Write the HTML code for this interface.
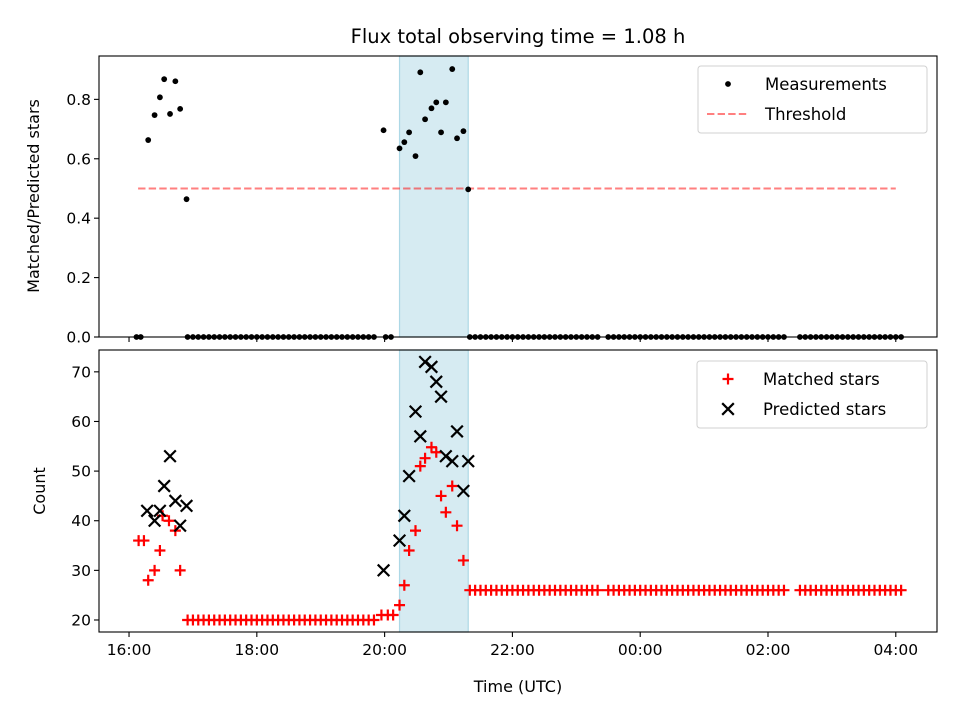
<!DOCTYPE html>
<html><head><meta charset="utf-8">
<style>
html,body{margin:0;padding:0;background:#fff;}
svg{display:block;font-family:"DejaVu Sans","Liberation Sans",sans-serif;}
</style></head>
<body>
<svg id="chart" width="960" height="720" viewBox="0 0 960 720" xmlns="http://www.w3.org/2000/svg">
<text x="518" y="43" text-anchor="middle" font-size="19.5" fill="#000">Flux total observing time = 1.08 h</text>
<g id="top-panel"></g>
<g id="bot-panel"></g>
<text x="518" y="692" text-anchor="middle" font-size="16">Time (UTC)</text>
<text transform="translate(39,196) rotate(-90)" text-anchor="middle" font-size="16">Matched/Predicted stars</text>
<text transform="translate(45,491) rotate(-90)" text-anchor="middle" font-size="16">Count</text>
</svg>
<script>
// minutes after 16:00
const flatB = [55,60,65,70,75,80,85,90,95,100,105,110,115,120,125,130,135,140,145,150,155,160,165,170,175,180,185,190,195,200,205,210,215,220,225,230];
const flatC = [320,325,330,335,340,345,350,355,360,365,370,375,380,385,390,395,400,405,410,415,420,425,430,435,440,
 450,455,460,465,470,475,480,485,490,495,500,505,510,515,520,525,530,535,540,545,550,555,560,565,570,575,580,585,590,595,600,605,610,615,
 630,635,640,645,650,655,660,665,670,675,680,685,690,695,700,705,710,715,720,725];
const ratioTimes = [18,24,29,33,38.5,43.5,48,54, 239,254,258.5,263,269,273.5,278,284,288.5,293,297.5,303.5,308,314,318.5];
const ratioValues = [0.663,0.747,0.807,0.868,0.751,0.861,0.768,0.464, 0.696,0.635,0.656,0.689,0.609,0.891,0.733,0.770,0.790,0.689,0.790,0.902,0.669,0.693,0.497];
const zeroTimes = [7,11,241,246];
const matchedTimes = [9,14,18,24,29,31.5,37.5,43.5,48, 237,243,248,254,258.5,263,269,273.5,278,284,288.5,293,297.5,303.5,308,314];
const matchedValues = [36,36,28,30,34,41,40,38,30, 21,21,21,23,27,34,38,51,52.6,54.8,53.8,45,41.7,47,39,32];
const predTimes = [17,24,29,33,38.5,43.5,48,54, 239,254,258.5,263,269,273.5,278,284,288.5,293,297.5,303.5,308,314,318.5];
const predValues = [42,40,42,47,53,44,39,43, 30,36,41,49,62,57,72,71,68,65,53,52,58,46,52];
const flatBValue = 20, flatCValue = 26;
const threshold = 0.5, thrStart = 8.5, thrEnd = 720;
const spanStart = 254, spanEnd = 318.5;
const xTicks = [0,120,240,360,480,600,720];
const xTickLabels = ["16:00","18:00","20:00","22:00","00:00","02:00","04:00"];
const topYTicks = [0,0.2,0.4,0.6,0.8];
const botYTicks = [20,30,40,50,60,70];

const NS="http://www.w3.org/2000/svg";
const L=99,R=937;
const xmin=-28.2,xmax=758.7;
const X=t=>L+(t-xmin)/(xmax-xmin)*(R-L);
const T0=56,T1=337, B0=350,B1=632;
const Yt=v=>T1-v/0.946*(T1-T0);
const Yb=v=>B1-(v-17.58)/(74.4-17.58)*(B1-B0);
function mk(p,tag,a){const e=document.createElementNS(NS,tag);for(const k in a)e.setAttribute(k,a[k]);p.appendChild(e);return e;}
const gTop=document.getElementById('top-panel'), gBot=document.getElementById('bot-panel');

function span(g,y0,y1){
 const r=mk(g,'rect',{x:X(spanStart),y:y0,width:X(spanEnd)-X(spanStart),height:y1-y0,fill:'#add8e6','fill-opacity':0.5,stroke:'#add8e6','stroke-width':1.2});
 
 
}
span(gTop,T0,T1); span(gBot,B0,B1);

const th=mk(gTop,'line',{x1:X(thrStart),x2:X(thrEnd),y1:Yt(threshold),y2:Yt(threshold),stroke:'#ff0000','stroke-opacity':0.5,'stroke-width':2,'stroke-dasharray':'7.4,3.2'});



function dot(t,v){
 const c=mk(gTop,'circle',{cx:X(t),cy:Yt(v),r:2.9,fill:'#000'});
 
 
}
ratioTimes.forEach((t,i)=>dot(t,ratioValues[i]));
zeroTimes.forEach(t=>dot(t,0));
flatB.forEach(t=>dot(t,0));
flatC.forEach(t=>dot(t,0));

function plus(g,cx,cy){
 const p=mk(g,'path',{d:`M${cx-5.5},${cy}H${cx+5.5}M${cx},${cy-5.5}V${cy+5.5}`,stroke:'#ff0000','stroke-width':2.2,fill:'none'});
 
 
}
function cross(g,cx,cy){
 const p=mk(g,'path',{d:`M${cx-5.8},${cy-5.8}L${cx+5.8},${cy+5.8}M${cx-5.8},${cy+5.8}L${cx+5.8},${cy-5.8}`,stroke:'#000','stroke-width':2.2,fill:'none'});
 
 
}
matchedTimes.forEach((t,i)=>plus(gBot,X(t),Yb(matchedValues[i])));
flatB.forEach(t=>plus(gBot,X(t),Yb(flatBValue)));
flatC.forEach(t=>plus(gBot,X(t),Yb(flatCValue)));
predTimes.forEach((t,i)=>cross(gBot,X(t),Yb(predValues[i])));

function frame(g,y0,y1,name){
 const r=mk(g,'rect',{x:L,y:y0,width:R-L,height:y1-y0,fill:'none',stroke:'#000','stroke-width':1.1});
 
 
}
frame(gTop,T0,T1,'top-axes-frame'); frame(gBot,B0,B1,'bottom-axes-frame');
xTicks.forEach((t,i)=>{
 mk(gTop,'line',{x1:X(t),x2:X(t),y1:T1,y2:T1+5,stroke:'#000','stroke-width':1.1});
 mk(gBot,'line',{x1:X(t),x2:X(t),y1:B1,y2:B1+5,stroke:'#000','stroke-width':1.1});
 const tx=mk(gBot,'text',{x:X(t),y:B1+23,'text-anchor':'middle','font-size':15.5});
 tx.textContent=xTickLabels[i];
 
 
});
topYTicks.forEach(v=>{
 mk(gTop,'line',{x1:L-5,x2:L,y1:Yt(v),y2:Yt(v),stroke:'#000','stroke-width':1.1});
 const tx=mk(gTop,'text',{x:L-8,y:Yt(v)+5.5,'text-anchor':'end','font-size':15.5});
 tx.textContent=v.toFixed(1);
 
 
});
botYTicks.forEach(v=>{
 mk(gBot,'line',{x1:L-5,x2:L,y1:Yb(v),y2:Yb(v),stroke:'#000','stroke-width':1.1});
 const tx=mk(gBot,'text',{x:L-8,y:Yb(v)+5.5,'text-anchor':'end','font-size':15.5});
 tx.textContent=String(v);
 
 
});

function legendBox(g,x,y,w,h,name){
 const r=mk(g,'rect',{x:x,y:y,width:w,height:h,rx:3,fill:'#fff','fill-opacity':0.8,stroke:'#d0d0d0','stroke-width':1});
 
 
}
function ltext(g,x,y,s){
 const t=mk(g,'text',{x:x,y:y,'font-size':16.5});
 t.textContent=s;
 
 
}
legendBox(gTop,698,66,229,67,'top-legend');
mk(gTop,'circle',{cx:728,cy:84,r:2.9,fill:'#000'});
ltext(gTop,765,90,'Measurements');
mk(gTop,'line',{x1:707,x2:749,y1:114,y2:114,stroke:'#ff0000','stroke-opacity':0.5,'stroke-width':2,'stroke-dasharray':'7.4,3.2'});
ltext(gTop,765,120,'Threshold');

legendBox(gBot,697,361,230,67,'bottom-legend');
plus(gBot,728,379);
ltext(gBot,763,385,'Matched stars');
cross(gBot,728,409);
ltext(gBot,763,415,'Predicted stars');
</script>
</body></html>
